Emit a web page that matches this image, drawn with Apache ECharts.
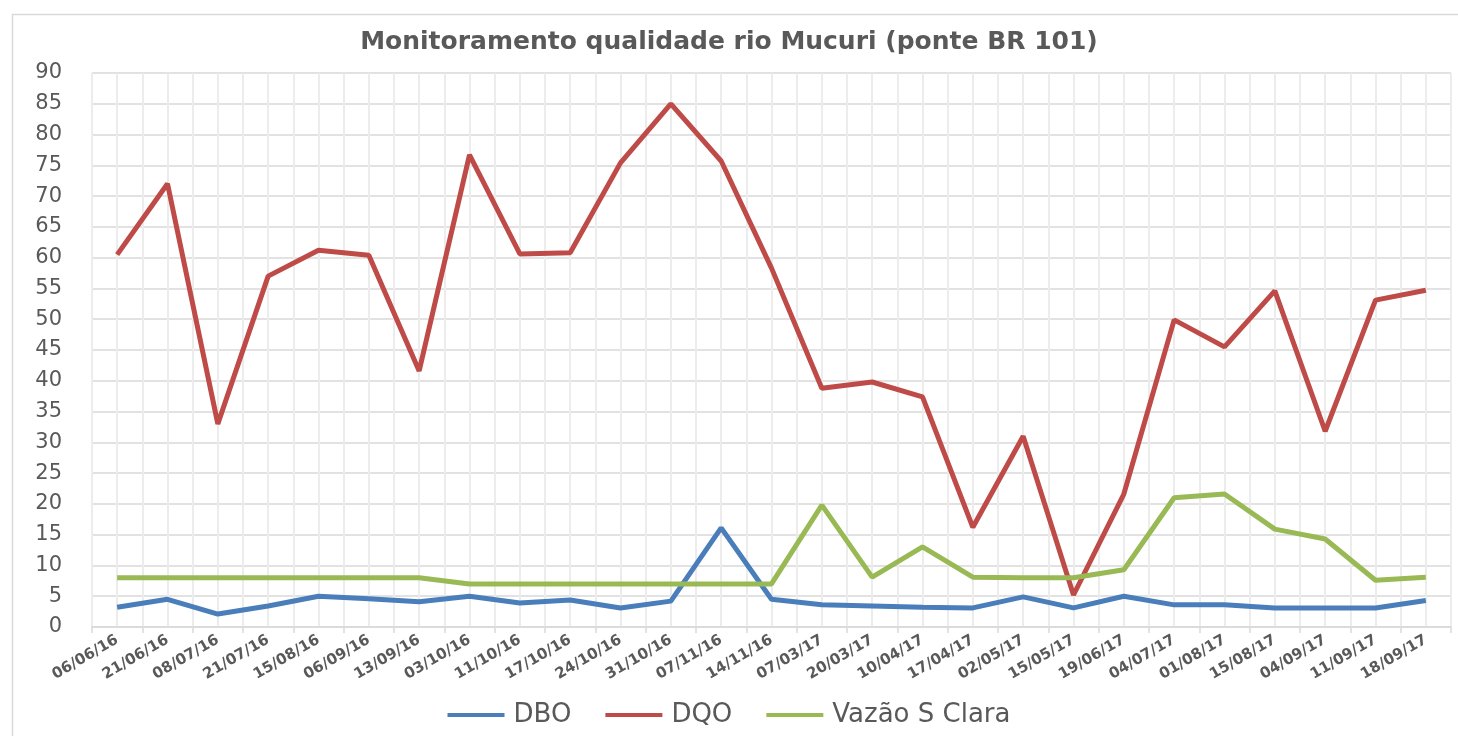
<!DOCTYPE html>
<html>
<head>
<meta charset="utf-8">
<script src="https://cdn.jsdelivr.net/npm/echarts@6/dist/echarts.min.js"></script>
<style>
html, body { margin: 0; padding: 0; background: #fff; }
#chart { width: 1458px; height: 736px; }
</style>
</head>
<body>
<div id="chart"></div>
<script>
const datas = ['06/06/16', '21/06/16', '08/07/16', '21/07/16', '15/08/16', '06/09/16', '13/09/16',
  '03/10/16', '11/10/16', '17/10/16', '24/10/16', '31/10/16', '07/11/16', '14/11/16',
  '07/03/17', '20/03/17', '10/04/17', '17/04/17', '02/05/17', '15/05/17', '19/06/17',
  '04/07/17', '01/08/17', '15/08/17', '04/09/17', '11/09/17', '18/09/17'];

const dbo = [3.2, 4.5, 2.1, 3.4, 5.0, 4.6, 4.1, 5.0, 3.9, 4.4, 3.1, 4.2, 16.1, 4.5,
  3.6, 3.4, 3.2, 3.1, 4.9, 3.1, 5.0, 3.6, 3.6, 3.1, 3.1, 3.1, 4.3];

const dqo = [60.5, 72, 33, 57, 61.2, 60.4, 41.6, 76.7, 60.6, 60.8, 75.4, 85, 75.7, 58.3,
  38.8, 39.8, 37.4, 16.2, 31, 5.2, 21.6, 49.9, 45.5, 54.6, 31.8, 53.1, 54.7];

const vazao = [8, 8, 8, 8, 8, 8, 8, 7, 7, 7, 7, 7, 7, 7,
  19.8, 8.1, 13, 8.1, 8, 8, 9.3, 21, 21.6, 15.9, 14.3, 7.6, 8.1];

const cinza = '#595959';

let myChart = echarts.init(document.getElementById('chart'));
let option = {
  animation: false,
  color: ['#4a7ebb', '#be4b48', '#98b954'],
  graphic: [{
    type: 'rect',
    left: 10, top: 12,
    shape: { width: 1470, height: 740 },
    style: { fill: 'none', stroke: '#d9d9d9', lineWidth: 1.5 },
    silent: true
  }],
  title: {
    text: 'Monitoramento qualidade rio Mucuri (ponte BR 101)',
    left: 'center',
    top: 25,
    textStyle: {
      fontFamily: 'DejaVu Sans',
      fontWeight: 'bold',
      fontSize: 25,
      color: cinza
    }
  },
  legend: {
    data: ['DBO', 'DQO', 'Vazão S Clara'],
    bottom: 3,
    left: 'center',
    icon: 'rect',
    itemWidth: 57,
    itemHeight: 4,
    itemGap: 34,
    textStyle: {
      fontFamily: 'DejaVu Sans',
      fontSize: 26,
      color: cinza,
      padding: [0, 0, 0, 4]
    }
  },
  grid: {
    left: 92,
    right: 7,
    top: 73,
    bottom: 109
  },
  xAxis: [
    {
      type: 'category',
      boundaryGap: true,
      data: datas,
      axisLine: { lineStyle: { color: '#d9d9d9', width: 1.5 } },
      axisTick: { show: true, length: 6, lineStyle: { color: '#d9d9d9', width: 1.5 } },
      axisLabel: {
        interval: 0,
        rotate: 30,
        margin: 12,
        color: cinza,
        fontFamily: 'DejaVu Sans',
        fontWeight: 'bold',
        fontSize: 15
      },
      splitLine: { show: false }
    },
    {
      // só para as linhas verticais da grade (fronteiras e meio de cada data)
      type: 'value',
      min: 0,
      max: 27,
      interval: 0.5,
      position: 'bottom',
      axisLine: { show: false },
      axisTick: { show: false },
      axisLabel: { show: false },
      splitLine: { show: true, lineStyle: { color: '#ececec', width: 2 } }
    }
  ],
  yAxis: {
    type: 'value',
    min: 0,
    max: 90,
    interval: 5,
    axisLine: { show: false },
    axisTick: { show: false },
    axisLabel: {
      margin: 30,
      color: cinza,
      fontFamily: 'DejaVu Sans',
      fontSize: 21
    },
    splitLine: { lineStyle: { color: '#d9d9d9', width: 1.5 } }
  },
  series: [
    {
      name: 'DBO',
      type: 'line',
      xAxisIndex: 0,
      showSymbol: false,
      lineStyle: { width: 5 },
      data: dbo
    },
    {
      name: 'DQO',
      type: 'line',
      xAxisIndex: 0,
      showSymbol: false,
      lineStyle: { width: 5 },
      data: dqo
    },
    {
      name: 'Vazão S Clara',
      type: 'line',
      xAxisIndex: 0,
      showSymbol: false,
      lineStyle: { width: 5 },
      data: vazao
    }
  ]
};
myChart.setOption(option);
window.onresize = function () {
  myChart.resize();
};
</script>
</body>
</html>
